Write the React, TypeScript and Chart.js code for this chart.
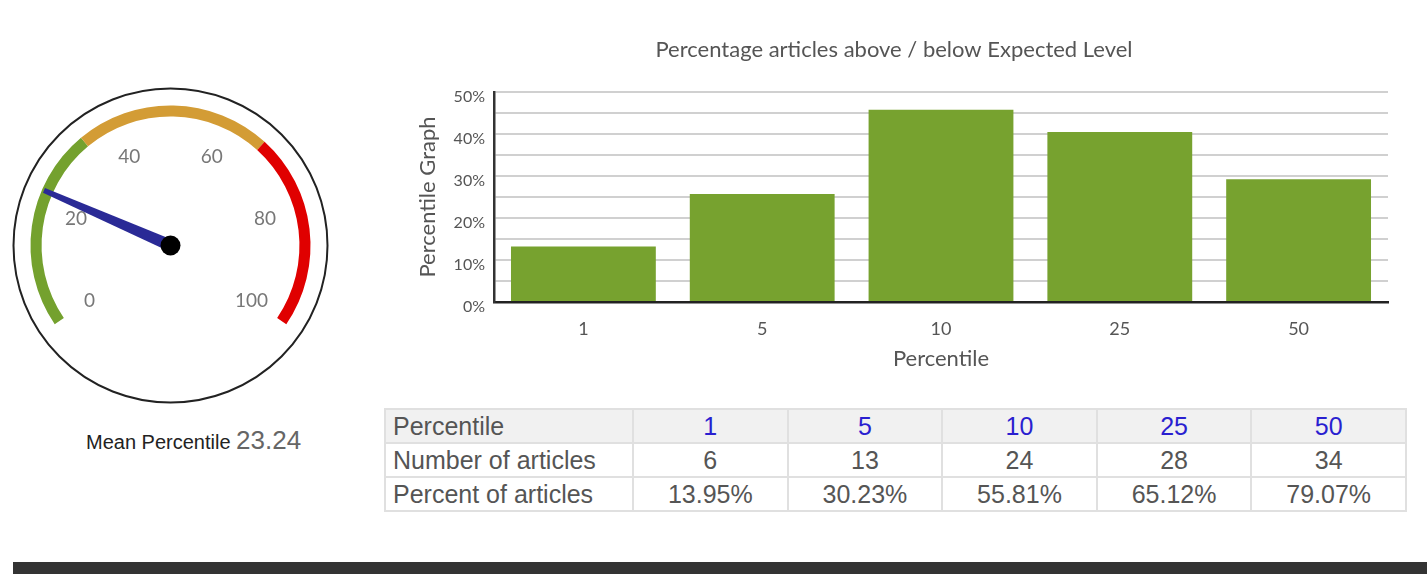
import React, { useEffect, useRef } from "react";
import { Chart, registerables } from "chart.js";

Chart.register(...registerables);

// ---- Data ----
const percentileLabels = ["1", "5", "10", "25", "50"];
const barValues = [13.2, 25.7, 45.8, 40.5, 29.2];
const articleCounts = [6, 13, 24, 28, 34];
const articlePercents = ["13.95%", "30.23%", "55.81%", "65.12%", "79.07%"];
const gaugeBandValues = [34, 33, 33];
const gaugeBandColors = ["#74a12e", "#d39c35", "#e00000"];
const gaugeTickLabels = [0, 20, 40, 60, 80, 100];
const meanPercentile = 23.24;

const chartTitle = "Percentage articles above / below Expected Level";
const GAUGE_MAX = 100;
const GAUGE_START = 145.8; // degrees, screen angle of value 0
const GAUGE_SWEEP = 248.4; // degrees
const CHART_FONT = "Lato, 'Open Sans', sans-serif";

function BarChart() {
  const ref = useRef<HTMLCanvasElement | null>(null);
  useEffect(() => {
    if (!ref.current) return;
    const chart = new Chart(ref.current, {
      type: "bar",
      data: {
        labels: percentileLabels,
        datasets: [
          {
            data: barValues,
            backgroundColor: "#77a22f",
            borderWidth: 0,
            barPercentage: 0.81,
            categoryPercentage: 1,
          },
        ],
      },
      options: {
        animation: false,
        responsive: false,
        maintainAspectRatio: false,
        layout: { padding: { left: 0, right: 15, top: 0, bottom: 0 } },
        plugins: {
          legend: { display: false },
          tooltip: { enabled: false },
          title: {
            display: true,
            text: chartTitle,
            color: "#555",
            font: { family: CHART_FONT, size: 22, weight: "normal" },
            padding: { top: 7, bottom: 28.6 },
          },
        },
        scales: {
          x: {
            grid: { display: false, drawTicks: false },
            border: { display: true, color: "#222", width: 2.5 },
            ticks: {
              color: "#555",
              font: { family: CHART_FONT, size: 18 },
              padding: 16,
            },
            title: {
              display: true,
              text: "Percentile",
              color: "#555",
              font: { family: CHART_FONT, size: 22 },
              padding: { top: 0, bottom: -2 },
            },
            afterFit: (s: any) => {
              s.height = 68;
            },
          },
          y: {
            min: 0,
            max: 50,
            ticks: {
              stepSize: 5,
              autoSkip: false,
              color: "#555",
              font: { family: CHART_FONT, size: 16 },
              padding: 9,
              labelOffset: 5,
              callback: (v: any) => (Number(v) % 10 === 0 ? v + "%" : ""),
            },
            grid: { color: "#d0d0d0", lineWidth: 2, drawTicks: false },
            border: { display: true, color: "#333", width: 2.5 },
            title: {
              display: true,
              text: "Percentile Graph",
              color: "#555",
              font: { family: CHART_FONT, size: 22 },
              padding: { top: 15, bottom: 0 },
            },
            afterFit: (s: any) => {
              s.width = 94;
            },
          },
        },
      },
    });
    return () => chart.destroy();
  }, []);
  return (
    <canvas
      ref={ref}
      width={1003}
      height={340}
      style={{ position: "absolute", left: 400, top: 30, width: 1003, height: 340 }}
    />
  );
}

const gaugeOverlay = {
  id: "gaugeOverlay",
  afterDraw(chart: any) {
    const ctx = chart.ctx as CanvasRenderingContext2D;
    const area = chart.chartArea;
    const cx = (area.left + area.right) / 2;
    const cy = (area.top + area.bottom) / 2;
    ctx.save();
    // outer ring
    ctx.beginPath();
    ctx.arc(cx, cy, 157, 0, Math.PI * 2);
    ctx.strokeStyle = "#222";
    ctx.lineWidth = 2;
    ctx.stroke();
    // tick labels
    ctx.fillStyle = "#777";
    ctx.font = "19px " + CHART_FONT;
    ctx.textAlign = "center";
    ctx.textBaseline = "middle";
    gaugeTickLabels.forEach((v) => {
      const a = ((GAUGE_START + (v / GAUGE_MAX) * GAUGE_SWEEP) * Math.PI) / 180;
      const r = 98;
      ctx.fillText(String(v), cx + r * Math.cos(a), cy + r * Math.sin(a));
    });
    // needle
    const na = ((GAUGE_START + (meanPercentile / GAUGE_MAX) * GAUGE_SWEEP) * Math.PI) / 180;
    const len = 138;
    const px = -Math.sin(na);
    const py = Math.cos(na);
    const baseW = 6;
    const tipW = 2.5;
    ctx.beginPath();
    ctx.moveTo(cx + px * baseW, cy + py * baseW);
    ctx.lineTo(cx + len * Math.cos(na) + px * tipW, cy + len * Math.sin(na) + py * tipW);
    ctx.lineTo(cx + len * Math.cos(na) - px * tipW, cy + len * Math.sin(na) - py * tipW);
    ctx.lineTo(cx - px * baseW, cy - py * baseW);
    ctx.closePath();
    ctx.fillStyle = "#2a2a96";
    ctx.fill();
    // hub
    ctx.beginPath();
    ctx.arc(cx, cy, 10, 0, Math.PI * 2);
    ctx.fillStyle = "#000";
    ctx.fill();
    ctx.restore();
  },
};

function Gauge() {
  const ref = useRef<HTMLCanvasElement | null>(null);
  useEffect(() => {
    if (!ref.current) return;
    const total = gaugeBandValues.reduce((a, b) => a + b, 0);
    const gap = (total * (360 - GAUGE_SWEEP)) / GAUGE_SWEEP;
    const chart = new Chart(ref.current, {
      type: "doughnut",
      data: {
        labels: ["low", "mid", "high", "gap"],
        datasets: [
          {
            data: [...gaugeBandValues, gap],
            backgroundColor: [...gaugeBandColors, "rgba(0,0,0,0)"],
            borderWidth: 0,
          },
        ],
      },
      options: {
        animation: false,
        responsive: false,
        maintainAspectRatio: false,
        rotation: GAUGE_START + 90,
        circumference: 360,
        radius: 140,
        cutout: "92.1%",
        layout: { padding: 0 },
        plugins: { legend: { display: false }, tooltip: { enabled: false } },
      },
      plugins: [gaugeOverlay],
    });
    return () => chart.destroy();
  }, []);
  return (
    <canvas
      ref={ref}
      width={321}
      height={321}
      style={{ position: "absolute", left: 10, top: 85, width: 321, height: 321 }}
    />
  );
}

const cellBorder = "2px solid #e0e0e0";

function DataTable() {
  const tdBase: React.CSSProperties = {
    border: cellBorder,
    padding: "0 0",
    height: 32,
    textAlign: "center",
    color: "#555",
  };
  const first: React.CSSProperties = { ...tdBase, textAlign: "left", paddingLeft: 7, width: 239 };
  return (
    <table
      style={{
        position: "absolute",
        left: 384,
        top: 408,
        width: 1023,
        borderCollapse: "collapse",
        fontFamily: "'Liberation Sans', Arial, sans-serif",
        fontSize: 25,
        lineHeight: "30px",
        tableLayout: "fixed",
      }}
    >
      <tbody>
        <tr style={{ background: "#f1f1f1" }}>
          <td style={first}>Percentile</td>
          {percentileLabels.map((p) => (
            <td key={p} style={{ ...tdBase, color: "#2a1fd0" }}>
              {p}
            </td>
          ))}
        </tr>
        <tr>
          <td style={first}>Number of articles</td>
          {articleCounts.map((n, i) => (
            <td key={i} style={tdBase}>
              {n}
            </td>
          ))}
        </tr>
        <tr>
          <td style={first}>Percent of articles</td>
          {articlePercents.map((p, i) => (
            <td key={i} style={tdBase}>
              {p}
            </td>
          ))}
        </tr>
      </tbody>
    </table>
  );
}

export default function App() {
  return (
    <div
      style={{
        position: "absolute",
        left: 0,
        top: 0,
        width: 1427,
        height: 574,
        overflow: "hidden",
        background: "#fff",
      }}
    >
      <Gauge />
      <div
        style={{
          position: "absolute",
          left: 86,
          top: 425,
          whiteSpace: "nowrap",
          fontFamily: "'Liberation Sans', Arial, sans-serif",
        }}
      >
        <span style={{ fontSize: 20, color: "#222" }}>Mean Percentile </span>
        <span style={{ fontSize: 26, color: "#666" }}>{meanPercentile.toFixed(2)}</span>
      </div>
      <BarChart />
      <DataTable />
      <div
        style={{
          position: "absolute",
          left: 13,
          top: 562,
          width: 1414,
          height: 12,
          background: "#333",
        }}
      />
    </div>
  );
}
